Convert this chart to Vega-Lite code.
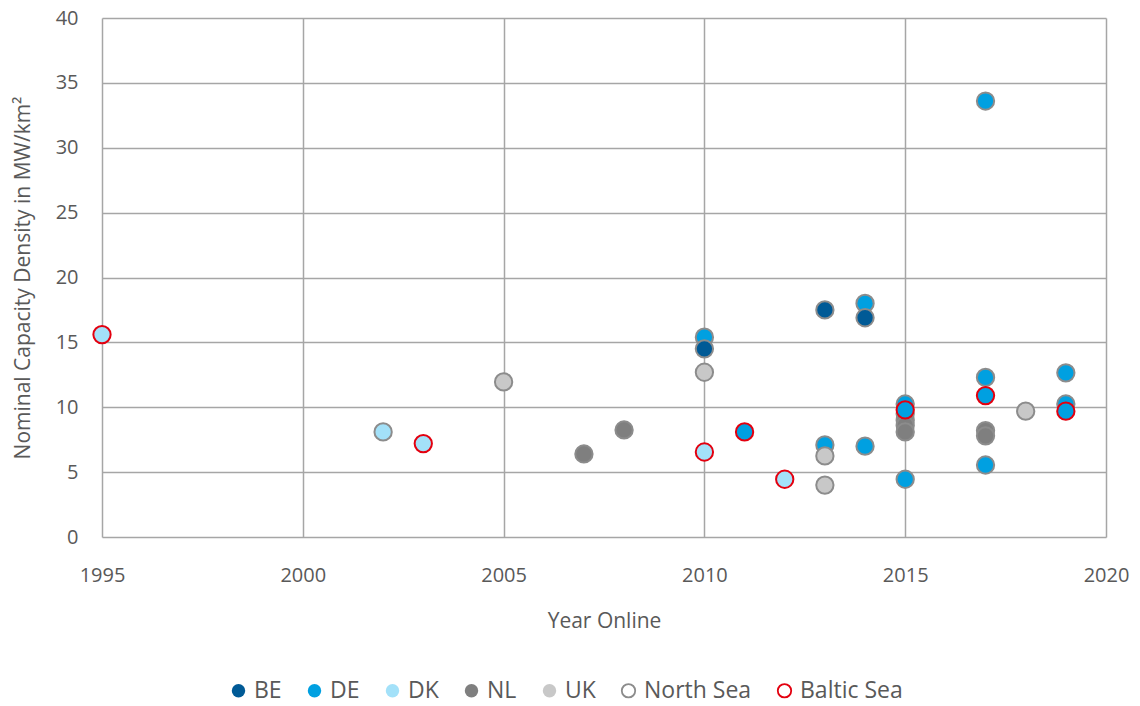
{
  "$schema": "https://vega.github.io/schema/vega-lite/v6.json",
  "width": 1004,
  "height": 519,
  "autosize": {"type": "none"},
  "padding": {"left": 102, "top": 18, "right": 34, "bottom": 169},
  "background": "white",
  "config": {
    "font": "Open Sans",
    "view": {"stroke": null},
    "axis": {"labelColor": "#595959", "titleColor": "#595959", "gridColor": "#a6a6a6", "gridWidth": 1.5, "domain": false, "ticks": false, "labelFont": "Open Sans", "titleFont": "Open Sans", "titleFontWeight": "normal", "labelOverlap": false, "labelFlush": false, "labelBound": false},
    "legend": {"symbolStrokeWidth": 1.8}
  },
  "data": {
    "values": [
      {"year": 1995, "density": 15.6, "country": "DK", "sea": "Baltic Sea"},
      {"year": 2002, "density": 8.1, "country": "DK", "sea": "North Sea"},
      {"year": 2003, "density": 7.2, "country": "DK", "sea": "Baltic Sea"},
      {"year": 2005, "density": 11.95, "country": "UK", "sea": "North Sea"},
      {"year": 2007, "density": 6.4, "country": "NL", "sea": "North Sea"},
      {"year": 2008, "density": 8.25, "country": "NL", "sea": "North Sea"},
      {"year": 2010, "density": 15.4, "country": "DE", "sea": "North Sea"},
      {"year": 2010, "density": 14.5, "country": "BE", "sea": "North Sea"},
      {"year": 2010, "density": 12.7, "country": "UK", "sea": "North Sea"},
      {"year": 2010, "density": 6.55, "country": "DK", "sea": "Baltic Sea"},
      {"year": 2011, "density": 8.1, "country": "DE", "sea": "Baltic Sea"},
      {"year": 2012, "density": 4.45, "country": "DK", "sea": "Baltic Sea"},
      {"year": 2013, "density": 17.5, "country": "BE", "sea": "North Sea"},
      {"year": 2013, "density": 7.1, "country": "DE", "sea": "North Sea"},
      {"year": 2013, "density": 6.25, "country": "UK", "sea": "North Sea"},
      {"year": 2013, "density": 4.0, "country": "UK", "sea": "North Sea"},
      {"year": 2014, "density": 18.0, "country": "DE", "sea": "North Sea"},
      {"year": 2014, "density": 16.9, "country": "BE", "sea": "North Sea"},
      {"year": 2014, "density": 7.0, "country": "DE", "sea": "North Sea"},
      {"year": 2015, "density": 10.25, "country": "DE", "sea": "North Sea"},
      {"year": 2015, "density": 9.5, "country": "DE", "sea": "North Sea"},
      {"year": 2015, "density": 9.0, "country": "NL", "sea": "North Sea"},
      {"year": 2015, "density": 8.6, "country": "NL", "sea": "North Sea"},
      {"year": 2015, "density": 8.1, "country": "NL", "sea": "North Sea"},
      {"year": 2015, "density": 9.8, "country": "DE", "sea": "Baltic Sea"},
      {"year": 2015, "density": 4.45, "country": "DE", "sea": "North Sea"},
      {"year": 2017, "density": 33.6, "country": "DE", "sea": "North Sea"},
      {"year": 2017, "density": 12.3, "country": "DE", "sea": "North Sea"},
      {"year": 2017, "density": 10.9, "country": "DE", "sea": "Baltic Sea"},
      {"year": 2017, "density": 8.2, "country": "NL", "sea": "North Sea"},
      {"year": 2017, "density": 7.8, "country": "NL", "sea": "North Sea"},
      {"year": 2017, "density": 5.55, "country": "DE", "sea": "North Sea"},
      {"year": 2018, "density": 9.7, "country": "UK", "sea": "North Sea"},
      {"year": 2019, "density": 12.65, "country": "DE", "sea": "North Sea"},
      {"year": 2019, "density": 10.25, "country": "DE", "sea": "North Sea"},
      {"year": 2019, "density": 9.7, "country": "DE", "sea": "Baltic Sea"}
    ]
  },
  "mark": {"type": "point", "shape": "circle", "filled": true, "size": 300, "strokeWidth": 2, "opacity": 1, "fillOpacity": 1},
  "encoding": {
    "x": {
      "field": "year", "type": "quantitative",
      "scale": {"domain": [1995, 2020], "nice": false, "zero": false},
      "axis": {"values": [1995, 2000, 2005, 2010, 2015, 2020], "format": "d", "title": "Year Online", "labelFontSize": 20, "titleFontSize": 21, "labelPadding": 28, "titlePadding": 25}
    },
    "y": {
      "field": "density", "type": "quantitative",
      "scale": {"domain": [0, 40], "nice": false},
      "axis": {"values": [0, 5, 10, 15, 20, 25, 30, 35, 40], "title": "Nominal Capacity Density in MW/km²", "labelFontSize": 20, "titleFontSize": 21, "labelPadding": 24, "titlePadding": 22}
    },
    "fill": {
      "field": "country", "type": "nominal",
      "scale": {"domain": ["BE", "DE", "DK", "NL", "UK", "North Sea", "Baltic Sea"], "range": ["#005a96", "#00a0e1", "#a3e1f9", "#7f7f7f", "#c8c8c8", "#ffffff", "#ffffff"]},
      "legend": {
        "orient": "none", "legendX": 125, "legendY": 661, "direction": "horizontal", "title": null,
        "symbolType": "circle", "symbolSize": 180, "labelFontSize": 23, "labelColor": "#595959", "labelFont": "Open Sans",
        "columnPadding": 21, "labelOffset": 4, "symbolStrokeWidth": 1.8
      }
    },
    "stroke": {
      "field": "sea", "type": "nominal",
      "scale": {"domain": ["BE", "DE", "DK", "NL", "UK", "North Sea", "Baltic Sea"], "range": ["transparent", "transparent", "transparent", "transparent", "transparent", "#8c8c8c", "#e3000f"]},
      "legend": {
        "orient": "none", "legendX": 125, "legendY": 661, "direction": "horizontal", "title": null,
        "symbolType": "circle", "symbolSize": 180, "labelFontSize": 23, "labelColor": "#595959", "labelFont": "Open Sans",
        "columnPadding": 21, "labelOffset": 4, "symbolStrokeWidth": 1.8
      }
    }
  }
}
